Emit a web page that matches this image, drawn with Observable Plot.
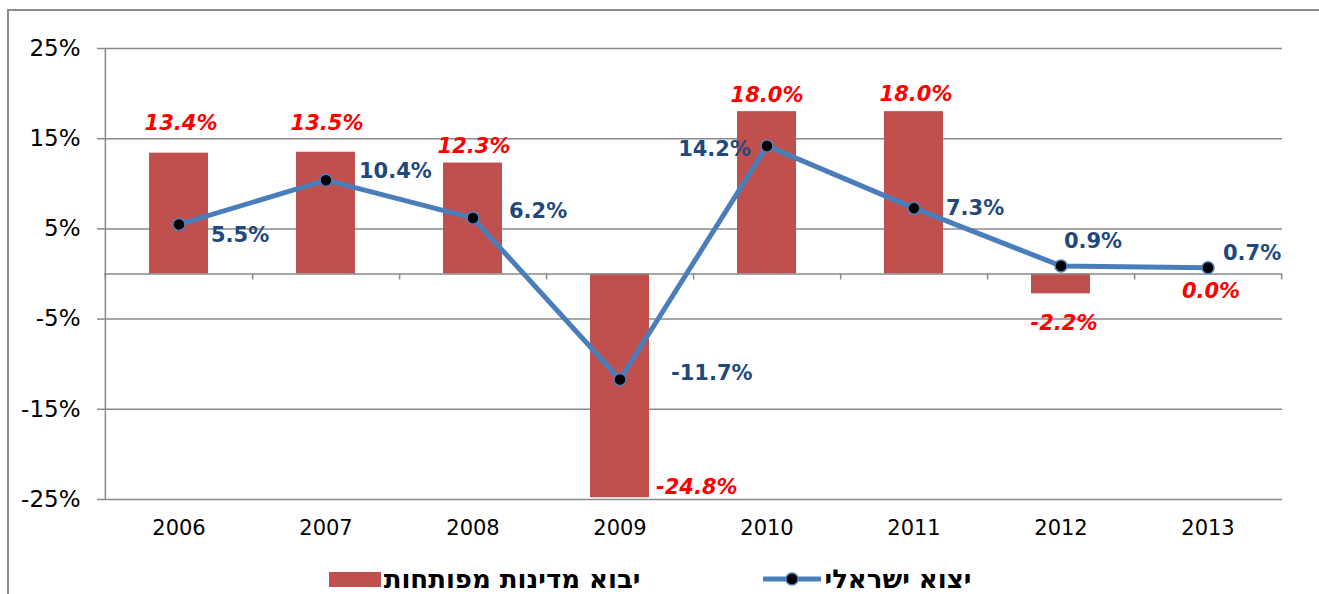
<!DOCTYPE html>
<html>
<head>
<meta charset="utf-8">
<script src="https://cdn.jsdelivr.net/npm/d3@7"></script>
<script src="https://cdn.jsdelivr.net/npm/@observablehq/plot@0.6"></script>
<style>
  html, body { margin: 0; padding: 0; background: #fff; }
  #wrap { position: relative; width: 1319px; height: 594px; overflow: hidden; font-family: "DejaVu Sans", sans-serif; }
  #frame { position: absolute; left: 7px; top: 9px; right: -20px; bottom: -20px; border-left: 2px solid #8c8c8c; border-top: 2px solid #8c8c8c; }
  #chart { position: absolute; left: 0; top: 0; }
  #legend { position: absolute; top: 565px; left: 0; width: 1319px; height: 28px; display: flex; justify-content: center; align-items: center; gap: 123px; padding-right: 19px; box-sizing: border-box; }
  .item { display: flex; align-items: center; gap: 3px; }
  .item span { direction: rtl; font-weight: bold; font-size: 26px; color: #000; line-height: 28px; }
  .swatch { width: 52px; height: 15px; background: #C0504D; }
</style>
</head>
<body>
<div id="wrap">
  <div id="frame"></div>
  <div id="chart"></div>
  <div id="legend"></div>
</div>
<script>
// ---- data ----
const years = ["2006", "2007", "2008", "2009", "2010", "2011", "2012", "2013"];
const importsDeveloped = [13.4, 13.5, 12.3, -24.8, 18.0, 18.0, -2.2, 0.0];   // יבוא מדינות מפותחות
const exportsIsrael = [5.5, 10.4, 6.2, -11.7, 14.2, 7.3, 0.9, 0.7];          // יצוא ישראלי
const yTicks = [-25, -15, -5, 5, 15, 25];
const seriesNames = ["יבוא מדינות מפותחות", "יצוא ישראלי"];

// ---- label placement (pixel nudges, style only) ----
const importLabelNudge = [
  {dx: 2, dy: -30, anchor: "middle"},
  {dx: 1, dy: -29, anchor: "middle"},
  {dx: 1, dy: -17, anchor: "middle"},
  {dx: 36, dy: -10, anchor: "start"},
  {dx: 0, dy: -16, anchor: "middle"},
  {dx: 2, dy: -17, anchor: "middle"},
  {dx: 3, dy: 29, anchor: "middle"},
  {dx: 3, dy: 17, anchor: "middle"}
];
const exportLabelNudge = [
  {dx: 32, dy: 11, anchor: "start"},
  {dx: 33, dy: -9, anchor: "start"},
  {dx: 36, dy: -7, anchor: "start"},
  {dx: 51, dy: -6, anchor: "start"},
  {dx: -16, dy: 3, anchor: "end"},
  {dx: 32, dy: 0, anchor: "start"},
  {dx: 32, dy: -25, anchor: "middle"},
  {dx: 15, dy: -14, anchor: "start"}
];

const rows = years.map((year, i) => ({year, imp: importsDeveloped[i], exp: exportsIsrael[i]}));
const fmt = v => v.toFixed(1) + "%";

const W = 1319, H = 560, ML = 104, MR = 37, MT = 48, MB = 61;
const step = (W - ML - MR) / years.length;
const grid = "#8a8a8a";
const barColor = "#C0504D";
const lineColor = "#4A7EBB";
const exportText = "#1F497D";
const importText = "#FF0000";

const importLabels = rows.map((r, i) => Plot.text([r], {
  x: "year", y: "imp", text: d => fmt(d.imp),
  dx: importLabelNudge[i].dx, dy: importLabelNudge[i].dy,
  textAnchor: importLabelNudge[i].anchor, lineAnchor: "middle",
  fill: importText, fontSize: 21, fontWeight: "bold", fontStyle: "italic"
}));
const exportLabels = rows.map((r, i) => Plot.text([r], {
  x: "year", y: "exp", text: d => fmt(d.exp),
  dx: exportLabelNudge[i].dx, dy: exportLabelNudge[i].dy,
  textAnchor: exportLabelNudge[i].anchor, lineAnchor: "middle",
  fill: exportText, fontSize: 21, fontWeight: "bold"
}));

const chart = Plot.plot({
  width: W, height: H,
  marginLeft: ML, marginRight: MR, marginTop: MT, marginBottom: MB,
  style: {fontFamily: "DejaVu Sans, sans-serif", background: "transparent", overflow: "visible"},
  x: {type: "band", domain: years, paddingInner: 0.6, paddingOuter: 0.3, axis: null, label: null},
  y: {domain: [-25, 25], axis: null, label: null},
  marks: [
    Plot.ruleY(yTicks, {stroke: grid, strokeWidth: 1.5}),
    Plot.axisY({ticks: yTicks, tickFormat: d => d + "%", tickSize: 7, tickPadding: 17, fontSize: 23, stroke: grid, strokeWidth: 1.5, fill: "#000", color: "#000", label: null}),
    // vertical axis line at the left edge of the first band step
    Plot.ruleX([years[0]], {x: d => d, y1: -25, y2: 25, dx: -step / 2, stroke: grid, strokeWidth: 1.5}),
    Plot.barY(rows, {x: "year", y: "imp", fill: barColor}),
    Plot.ruleY([0], {stroke: grid, strokeWidth: 1.5}),
    // category boundary ticks on the zero line
    Plot.ruleX(years, {x: d => d, y1: 0, y2: 0, insetBottom: -6, dx: step / 2, stroke: grid, strokeWidth: 1.5}),
    Plot.ruleX([years[0]], {x: d => d, y1: 0, y2: 0, insetBottom: -6, dx: -step / 2, stroke: grid, strokeWidth: 1.5}),
    Plot.line(rows, {x: "year", y: "exp", stroke: lineColor, strokeWidth: 5}),
    Plot.dot(rows, {x: "year", y: "exp", r: 6, fill: "#000", stroke: "#4F81BD", strokeWidth: 1.5}),
    Plot.axisX({domain: years, tickSize: 0, tickPadding: 21, fontSize: 21, fill: "#000", color: "#000", label: null}),
    ...importLabels,
    ...exportLabels
  ]
});
document.getElementById("chart").appendChild(chart);

// ---- legend ----
const legend = document.getElementById("legend");
const item1 = document.createElement("div");
item1.className = "item";
item1.innerHTML = `<div class="swatch"></div><span>${seriesNames[0]}</span>`;
const item2 = document.createElement("div");
item2.className = "item";
item2.innerHTML = `<svg width="58" height="16"><line x1="1" y1="8" x2="57" y2="8" stroke="${lineColor}" stroke-width="5" stroke-linecap="round"/><circle cx="29" cy="8" r="6" fill="#000" stroke="#4F81BD" stroke-width="1.5"/></svg><span>${seriesNames[1]}</span>`;
legend.appendChild(item1);
legend.appendChild(item2);
</script>
</body>
</html>
